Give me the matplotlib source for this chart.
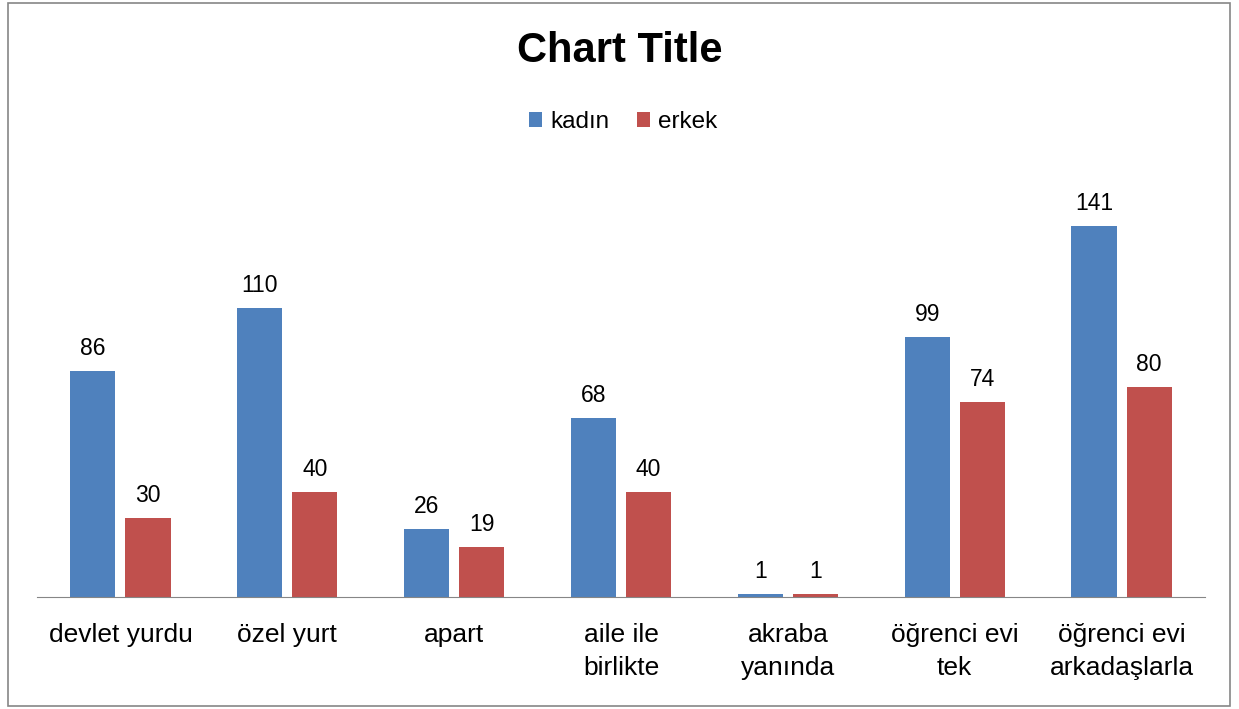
import numpy as np
import matplotlib.pyplot as plt
from matplotlib.patches import Rectangle

plt.rcParams['font.family'] = ['Liberation Sans', 'DejaVu Sans']

categories = ["devlet yurdu", "özel yurt", "apart", "aile ile\nbirlikte",
              "akraba\nyanında", "öğrenci evi\ntek", "öğrenci evi\narkadaşlarla"]
kadin = [86, 110, 26, 68, 1, 99, 141]
erkek = [30, 40, 19, 40, 1, 74, 80]

blue = "#4F81BD"
red = "#C0504D"

fig = plt.figure(figsize=(12.39, 7.09), dpi=100)
ax = fig.add_axes([0.0299, 0.158, 0.9426, 0.602])

x = np.arange(len(categories))
w = 0.27
b1 = ax.bar(x - 0.165, kadin, w, color=blue)
b2 = ax.bar(x + 0.165, erkek, w, color=red)

for bars, vals in [(b1, kadin), (b2, erkek)]:
    for r, v in zip(bars, vals):
        ax.annotate(str(v), (r.get_x() + r.get_width() / 2, v),
                    xytext=(0, 8), textcoords="offset points",
                    ha="center", va="bottom", fontsize=16.5)

ax.set_xlim(-0.5, len(categories) - 0.5)
ax.set_ylim(0, 162.4)
ax.set_xticks(x)
ax.set_xticklabels(categories, fontsize=19, linespacing=1.45, va="top")
ax.tick_params(axis="x", length=0, pad=19)
ax.set_yticks([])
for s in ["top", "right", "left"]:
    ax.spines[s].set_visible(False)
ax.spines["bottom"].set_color("#868686")

fig.text(0.5, 0.928, "Chart Title", ha="center", va="center",
         fontsize=30, fontweight="bold")

fig.legend([b1, b2], ["kadın", "erkek"], loc="center", bbox_to_anchor=(0.503, 0.828),
           ncol=2, frameon=False, fontsize=17.5, handlelength=0.55, handleheight=0.6,
           handletextpad=0.35, columnspacing=1.1)

fig.patches.append(Rectangle((8 / 1239, 3 / 709), 1222 / 1239, 703 / 709,
                             transform=fig.transFigure, fill=False,
                             edgecolor="#868686", linewidth=1.2))

fig.savefig("out.png", dpi=100)
